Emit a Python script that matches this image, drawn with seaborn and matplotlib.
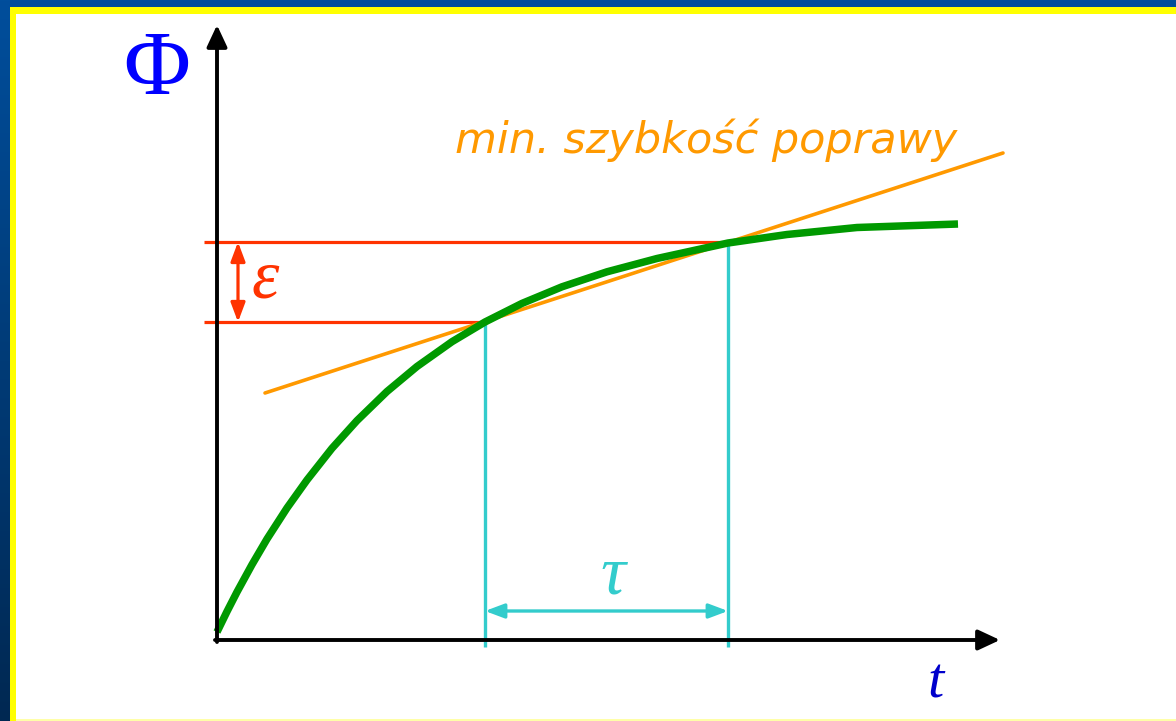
import numpy as np
import pandas as pd
import matplotlib
matplotlib.use("Agg")
import matplotlib.pyplot as plt
import seaborn as sns
from matplotlib.patches import Rectangle

# ---------------------------------------------
# DATA (origin = axes corner)
# ---------------------------------------------
t_curve = [0.00, 0.10, 0.20, 0.35, 0.50, 0.70, 0.90, 1.15, 1.40, 1.70, 2.00,
           2.35, 2.68, 3.05, 3.45, 3.90, 4.40, 5.11, 5.70, 6.40, 7.41]
phi_curve = [0.08, 0.285, 0.48, 0.754, 1.01, 1.32, 1.60, 1.917, 2.194, 2.485, 2.735,
             2.983, 3.18, 3.366, 3.532, 3.682, 3.815, 3.97, 4.055, 4.125, 4.16]

t_tangent = [0.48, 7.86]
phi_tangent = [2.47, 4.87]

eps_levels = [3.98, 3.18]          # upper / lower level of epsilon
eps_ends = [5.11, 2.68]            # where the red lines end
tau_start, tau_end = 2.68, 5.11    # the tau interval

axis_t_end = 7.83
axis_phi_end = 6.15

GREEN = "#009900"
ORANGE = "#FF9900"
RED = "#FF3300"
CYAN = "#33CCCC"
BLUE = "#0000FF"

sns.set_theme(style="white")

W, H = 1176, 721
fig = plt.figure(figsize=(W / 100, H / 100), dpi=100)

# ---------------------------------------------
# BACKGROUND: blue frame, yellow border, white slide
# ---------------------------------------------
bg = fig.add_axes([0, 0, 1, 1])
top_c = np.array([0x00, 0x4E, 0x9C]) / 255
bot_c = np.array([0x00, 0x28, 0x52]) / 255
grad = np.linspace(0, 1, H)[:, None, None] * (bot_c - top_c) + top_c
grad = np.repeat(grad, 4, axis=1)
bg.imshow(grad, extent=(0, W, H, 0), aspect="auto")
bg.add_patch(Rectangle((10, 7), W, H, color="#FFFF00", lw=0))
bg.add_patch(Rectangle((16, 14), W, 705, color="white", lw=0))
bg.add_patch(Rectangle((16, 719), W, 2, color="#FFFFA8", lw=0))
bg.set_xlim(0, W)
bg.set_ylim(H, 0)
bg.axis("off")

# ---------------------------------------------
# MAIN DRAWING
# ---------------------------------------------
ax = fig.add_axes([0, 0, 1, 1])
ax.patch.set_alpha(0)
ax.set_xlim(-2.17, 9.59)
ax.set_ylim(-0.81, 6.40)
ax.axis("off")

# axes with arrows
ax_arrow = dict(arrowstyle="-|>,head_length=0.6,head_width=0.28", mutation_scale=22,
                color="black", lw=2.8, shrinkA=0, shrinkB=0)
ax.annotate("", xy=(0, axis_phi_end), xytext=(0, -0.02), arrowprops=ax_arrow)
ax.annotate("", xy=(axis_t_end, 0), xytext=(-0.02, 0), arrowprops=ax_arrow)

# cyan verticals and tau arrow
for tv, top in zip([tau_start, tau_end], [eps_levels[1], eps_levels[0]]):
    ax.plot([tv, tv], [-0.07, top], color=CYAN, lw=2.4, solid_capstyle="butt")

small_arrow = "<|-|>,head_length=0.64,head_width=0.24"
ax.annotate("", xy=(tau_end, 0.29), xytext=(tau_start, 0.29),
            arrowprops=dict(arrowstyle=small_arrow, mutation_scale=18, color=CYAN,
                            lw=2.4, shrinkA=0, shrinkB=0))

# red epsilon levels
for lev, end in zip(eps_levels, eps_ends):
    ax.plot([-0.13, end], [lev, lev], color=RED, lw=2.3, solid_capstyle="butt")
ax.annotate("", xy=(0.21, eps_levels[0]), xytext=(0.21, eps_levels[1]),
            arrowprops=dict(arrowstyle=small_arrow, mutation_scale=18, color=RED,
                            lw=2.3, shrinkA=0, shrinkB=0))

# tangent (minimum improvement rate)
tan_df = pd.DataFrame({"t": t_tangent, "phi": phi_tangent})
sns.lineplot(data=tan_df, x="t", y="phi", ax=ax, color=ORANGE, lw=2.6)

# objective curve
curve_df = pd.DataFrame({"t": t_curve, "phi": phi_curve})
sns.lineplot(data=curve_df, x="t", y="phi", ax=ax, color=GREEN, lw=5.4, sort=False)
ax.lines[-1].set_solid_capstyle("butt")
ax.lines[-1].set_solid_joinstyle("round")

# ---------------------------------------------
# TEXT
# ---------------------------------------------
ax.text(-0.60, 5.46, "Φ", color=BLUE, fontsize=66, family="Liberation Serif",
        ha="center", va="baseline")
ax.text(0.48, 3.43, "ε", color=RED, fontsize=50, family="Liberation Serif",
        style="italic", ha="center", va="baseline")
ax.text(3.96, 0.47, "τ", color=CYAN, fontsize=50, family="Liberation Serif",
        style="italic", ha="center", va="baseline")
ax.text(7.19, -0.57, "t", color="#0000CC", fontsize=42, family="Liberation Serif",
        style="italic", ha="center", va="baseline")
ax.text(2.38, 4.87, "min. szybkość poprawy", color=ORANGE, fontsize=31,
        family="DejaVu Sans", style="italic", ha="left", va="baseline")

fig.savefig("out.png", dpi=100)
